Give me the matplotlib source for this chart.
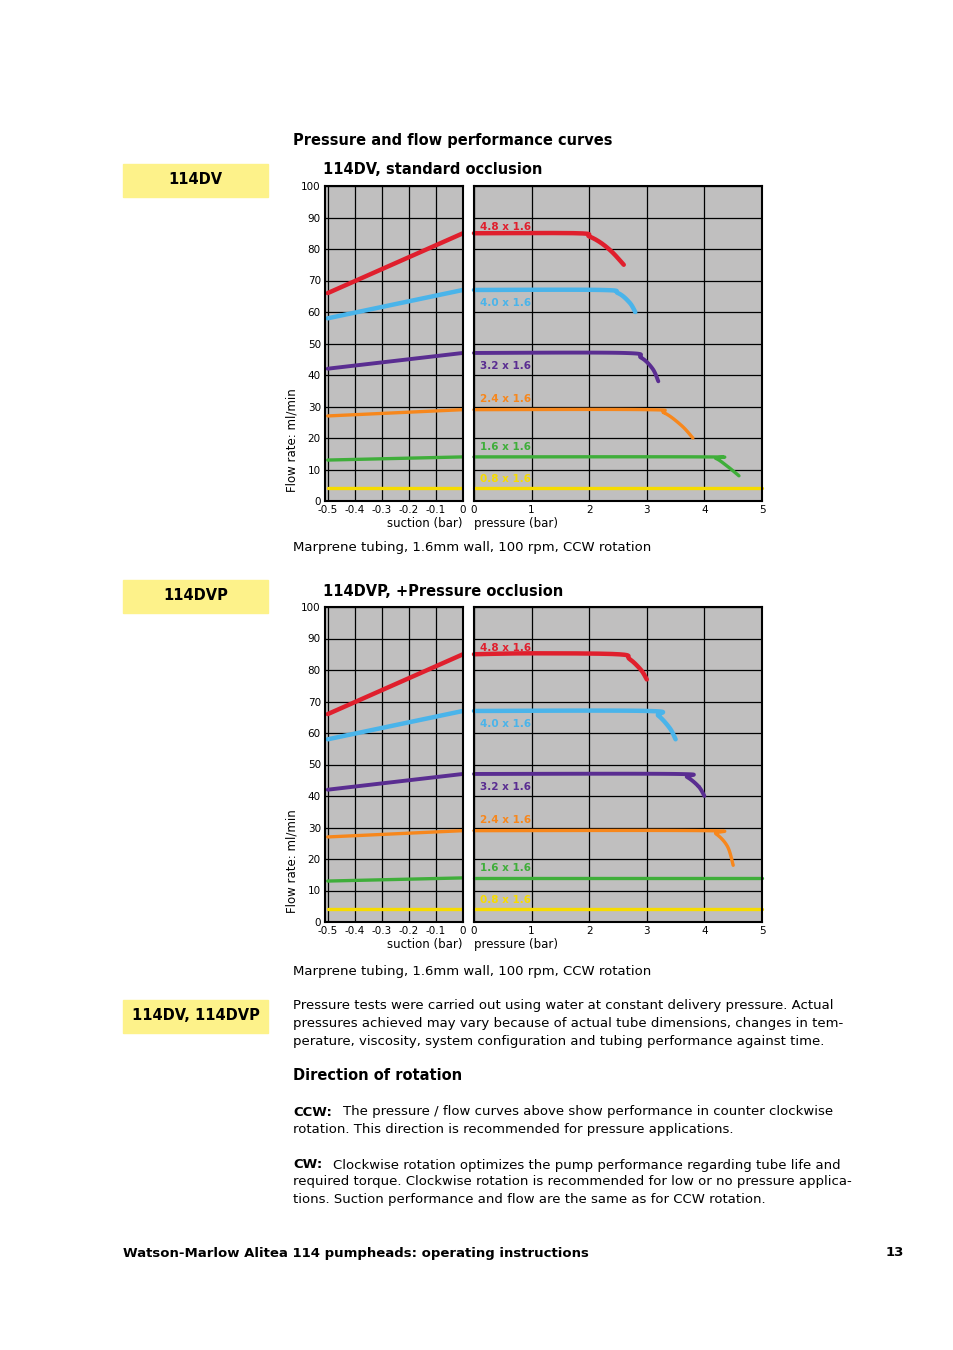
import matplotlib
matplotlib.use("Agg")
import matplotlib.pyplot as plt
from matplotlib.patches import Rectangle

W, H = 954, 1350
names = ["4.8 x 1.6", "4.0 x 1.6", "3.2 x 1.6", "2.4 x 1.6", "1.6 x 1.6", "0.8 x 1.6"]
colors = ["#e01f2d", "#4ab4ea", "#5a2d91", "#f7871c", "#3fae3a", "#f7dc00"]
label_y = [87, 63, 43, 32.5, 17, 7]

suction_x = [-0.5, 0]
suction_dv = [[66, 85], [58, 67], [42, 47], [27, 29], [13, 14], [4, 4]]
suction_dvp = [[66, 85], [58, 67], [42, 47], [27, 29], [13, 14], [4, 4]]

press_dv = [
    ([0, 1.8, 2.0, 2.2, 2.4, 2.6], [85, 85, 84, 82, 79, 75]),
    ([0, 2.2, 2.5, 2.7, 2.8], [67, 67, 66, 63, 60]),
    ([0, 2.6, 2.9, 3.1, 3.2], [47, 47, 45.5, 42, 38]),
    ([0, 3.0, 3.3, 3.6, 3.8], [29, 29, 28, 24, 20]),
    ([0, 4.0, 4.2, 4.4, 4.6], [14, 14, 13.5, 11, 8]),
    ([0, 5], [4, 4]),
]
press_dvp = [
    ([0, 1, 2.5, 2.7, 2.9, 3.0], [85, 85.3, 85, 83.5, 80, 77]),
    ([0, 3.0, 3.2, 3.4, 3.5], [67, 67, 65.5, 61.5, 58]),
    ([0, 3.5, 3.7, 3.9, 4.0], [47, 47, 46, 43, 40]),
    ([0, 4.0, 4.2, 4.4, 4.5], [29, 29, 28, 24, 18]),
    ([0, 5], [14, 14]),
    ([0, 5], [4, 4]),
]
widths = [3.2, 3.2, 2.8, 2.4, 2.4, 2.4]

fig = plt.figure(figsize=(9.54, 13.5), dpi=100)

def fx(px): return px / W
def fy(py): return 1 - py / H

def txt(x, y, s, **kw):
    fig.text(fx(x), fy(y), s, **kw)

def interp_smooth(xs, ys):
    import numpy as np
    from matplotlib.path import Path
    xs = np.array(xs, float); ys = np.array(ys, float)
    if len(xs) < 3:
        return xs, ys
    t = np.linspace(0, 1, 200)
    # Catmull-Rom
    px, py = [], []
    P = list(zip(xs, ys))
    P = [P[0]] + P + [P[-1]]
    for i in range(1, len(P) - 2):
        p0, p1, p2, p3 = [np.array(p) for p in P[i-1:i+3]]
        tt = np.linspace(0, 1, 30)[:, None]
        pts = 0.5 * ((2*p1) + (-p0+p2)*tt + (2*p0-5*p1+4*p2-p3)*tt**2 + (-p0+3*p1-3*p2+p3)*tt**3)
        px.extend(pts[:, 0]); py.extend(pts[:, 1])
    return px, py

def chart(top, title, suction, press):
    bottom = top + 315
    axl = fig.add_axes([fx(325), fy(bottom), 138 / W, 315 / H])
    axr = fig.add_axes([fx(474), fy(bottom), 288 / W, 315 / H])
    for ax in (axl, axr):
        ax.set_facecolor("#c0bfbf")
        ax.set_ylim(0, 100)
        ax.set_yticks(range(0, 101, 10))
        ax.grid(True, color="black", linewidth=0.9)
        ax.set_axisbelow(True)
        for s in ax.spines.values():
            s.set_linewidth(1.5)
        ax.tick_params(length=0, labelsize=7.5, pad=3)
    axl.set_xlim(-0.51, 0)
    axl.set_xticks([-0.5, -0.4, -0.3, -0.2, -0.1, 0])
    axl.set_xticklabels(["-0.5", "-0.4", "-0.3", "-0.2", "-0.1", "0"])
    axl.set_ylabel("Flow rate: ml/min", fontsize=8.5, labelpad=2, y=0.03, ha="left")
    axl.set_xlabel("suction (bar)", fontsize=8.5, labelpad=1, x=1.0, ha="right")
    axr.set_xlim(0, 5)
    axr.set_xticks(range(6))
    axr.set_yticklabels([])
    axr.set_xlabel("pressure (bar)", fontsize=8.5, labelpad=1, x=0.0, ha="left")
    for i in range(6):
        axl.plot(suction_x, suction[i], color=colors[i], lw=widths[i], solid_capstyle="round")
        sx, sy = interp_smooth(*press[i])
        axr.plot(sx, sy, color=colors[i], lw=widths[i], solid_capstyle="round", clip_on=False)
        axr.text(0.1, label_y[i], names[i], color=colors[i], fontsize=7.5,
                 fontweight="bold", va="center")
    txt(323, top - 16, title, fontsize=10.5, fontweight="bold", va="center")

chart(186, "114DV, standard occlusion", suction_dv, press_dv)
chart(607, "114DVP, +Pressure occlusion", suction_dvp, press_dvp)

# yellow tabs
for y0, lab in [(164, "114DV"), (580, "114DVP"), (1000, "114DV, 114DVP")]:
    fig.patches.append(Rectangle((fx(123), fy(y0 + 33)), 145 / W, 33 / H,
                                 transform=fig.transFigure, color="#fdf28a"))
    txt(195.5, y0 + 15, lab, fontsize=10.5, fontweight="bold", ha="center", va="center")

txt(293, 141, "Pressure and flow performance curves", fontsize=10.5, fontweight="bold", va="center")
txt(293, 547, "Marprene tubing, 1.6mm wall, 100 rpm, CCW rotation", fontsize=9.5, va="center")
txt(293, 971, "Marprene tubing, 1.6mm wall, 100 rpm, CCW rotation", fontsize=9.5, va="center")

body = [
    (1006, "Pressure tests were carried out using water at constant delivery pressure. Actual"),
    (1023, "pressures achieved may vary because of actual tube dimensions, changes in tem-"),
    (1041, "perature, viscosity, system configuration and tubing performance against time."),
]
for y, s in body:
    txt(293, y, s, fontsize=9.5, va="center")
txt(293, 1075, "Direction of rotation", fontsize=10.5, fontweight="bold", va="center")
txt(293, 1112, "CCW:", fontsize=9.5, fontweight="bold", va="center")
txt(343, 1112, "The pressure / flow curves above show performance in counter clockwise", fontsize=9.5, va="center")
txt(293, 1129, "rotation. This direction is recommended for pressure applications.", fontsize=9.5, va="center")
txt(293, 1165, "CW:", fontsize=9.5, fontweight="bold", va="center")
txt(333, 1165, "Clockwise rotation optimizes the pump performance regarding tube life and", fontsize=9.5, va="center")
txt(293, 1182, "required torque. Clockwise rotation is recommended for low or no pressure applica-", fontsize=9.5, va="center")
txt(293, 1200, "tions. Suction performance and flow are the same as for CCW rotation.", fontsize=9.5, va="center")

txt(123, 1253, "Watson-Marlow Alitea 114 pumpheads: operating instructions", fontsize=9.5, fontweight="bold", va="center")
txt(904, 1253, "13", fontsize=9.5, fontweight="bold", va="center", ha="right")

fig.savefig("out.png", dpi=100)
